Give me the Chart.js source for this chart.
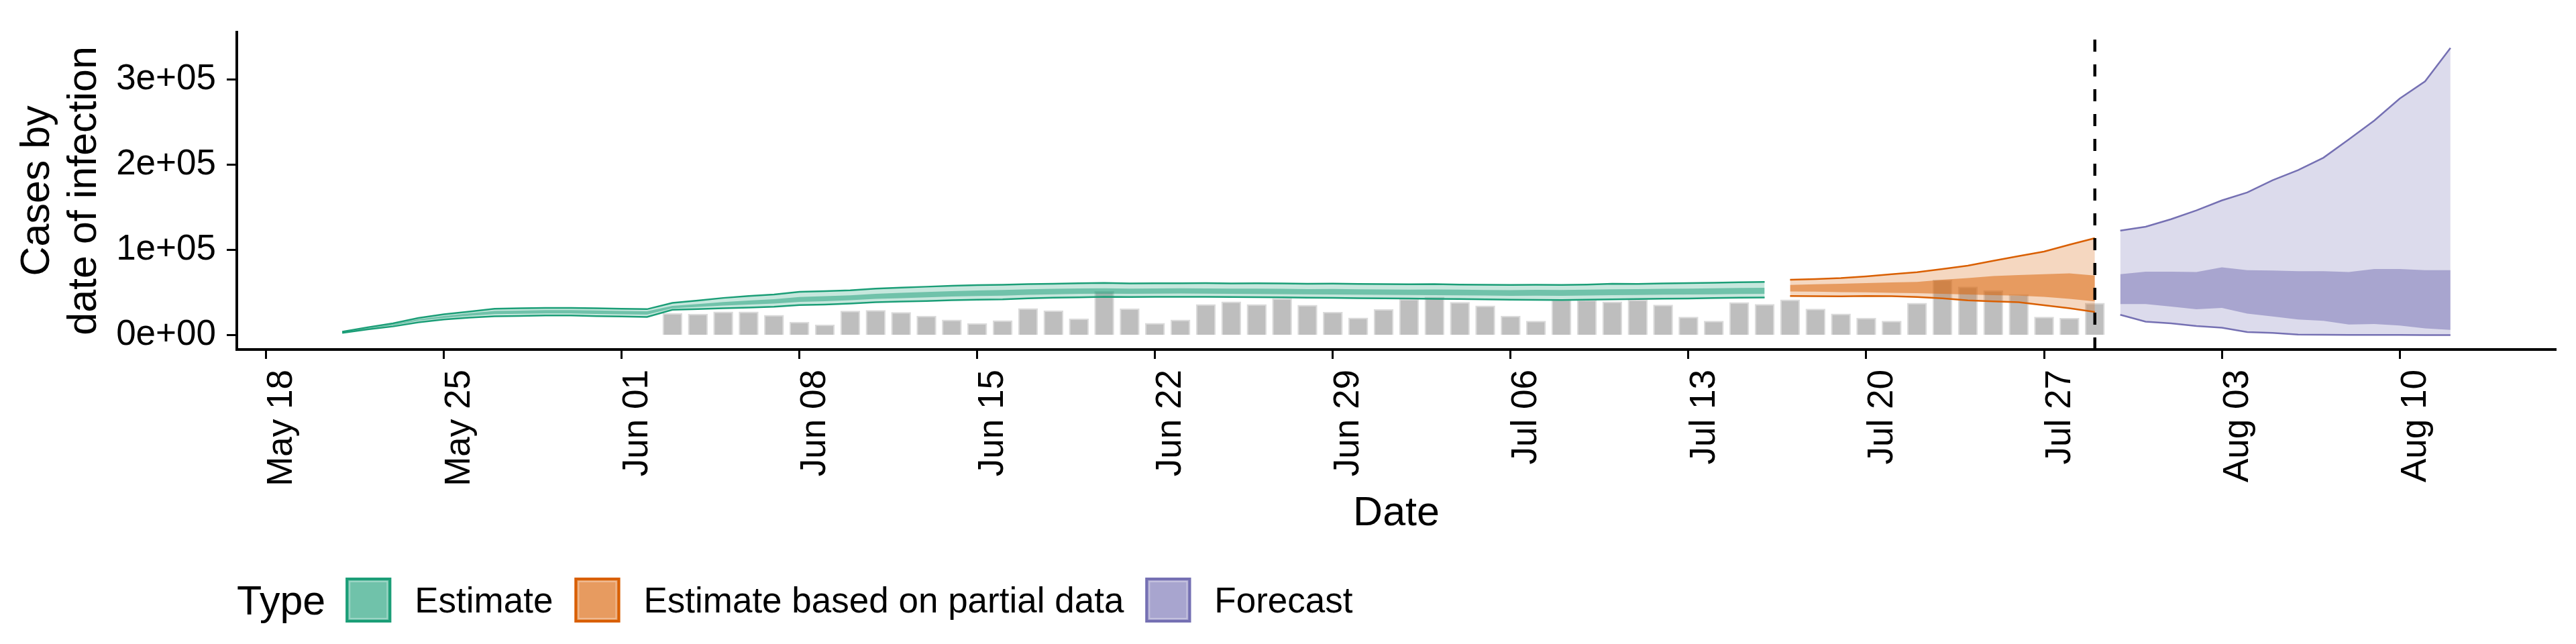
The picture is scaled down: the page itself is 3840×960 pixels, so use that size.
<!DOCTYPE html>
<html>
<head>
<meta charset="utf-8">
<title>Cases by date of infection</title>
<script src="https://cdn.jsdelivr.net/npm/chart.js@4.4.1/dist/chart.umd.min.js"></script>
<style>
  html, body { margin: 0; padding: 0; background: #fff; }
  #wrap { width: 3840px; height: 960px; }
</style>
</head>
<body>
<div id="wrap"><canvas id="myChart" width="3840" height="960"></canvas></div>
<script>
// every day that has a modelled value, May 21 .. Aug 12
const dates = [
  '2020-05-21', '2020-05-22', '2020-05-23', '2020-05-24', '2020-05-25', '2020-05-26', '2020-05-27',
  '2020-05-28', '2020-05-29', '2020-05-30', '2020-05-31', '2020-06-01', '2020-06-02', '2020-06-03',
  '2020-06-04', '2020-06-05', '2020-06-06', '2020-06-07', '2020-06-08', '2020-06-09', '2020-06-10',
  '2020-06-11', '2020-06-12', '2020-06-13', '2020-06-14', '2020-06-15', '2020-06-16', '2020-06-17',
  '2020-06-18', '2020-06-19', '2020-06-20', '2020-06-21', '2020-06-22', '2020-06-23', '2020-06-24',
  '2020-06-25', '2020-06-26', '2020-06-27', '2020-06-28', '2020-06-29', '2020-06-30', '2020-07-01',
  '2020-07-02', '2020-07-03', '2020-07-04', '2020-07-05', '2020-07-06', '2020-07-07', '2020-07-08',
  '2020-07-09', '2020-07-10', '2020-07-11', '2020-07-12', '2020-07-13', '2020-07-14', '2020-07-15',
  '2020-07-16', '2020-07-17', '2020-07-18', '2020-07-19', '2020-07-20', '2020-07-21', '2020-07-22',
  '2020-07-23', '2020-07-24', '2020-07-25', '2020-07-26', '2020-07-27', '2020-07-28', '2020-07-29',
  '2020-07-30', '2020-07-31', '2020-08-01', '2020-08-02', '2020-08-03', '2020-08-04', '2020-08-05',
  '2020-08-06', '2020-08-07', '2020-08-08', '2020-08-09', '2020-08-10', '2020-08-11', '2020-08-12'
];

const estimateDates = dates.slice(0, 57);   // May 21 - Jul 16
const partialDates = dates.slice(57, 70);   // Jul 17 - Jul 29
const forecastDates = dates.slice(70);      // Jul 30 - Aug 12
const reportDates = dates.slice(13, 70);    // Jun 03 - Jul 29

// Estimate
const estimateUpper90 = [
  4000, 9100, 13700, 20000, 24300, 27600, 30900, 31400, 31900, 31900, 31400, 30900, 30400,
  37800, 40600, 43600, 45900, 47700, 50700, 51500, 52500, 54500, 55800, 56800, 57800, 58600, 59100, 59800, 60300, 60800, 61300,
  60600, 60900, 60800, 61000, 60700, 60800, 60600, 60300, 60400, 60000, 59800, 59600, 59800, 59300, 59100, 58800, 59000, 58800,
  59300, 60300, 60000, 60600, 61000, 61500, 62000, 62400
];
const estimateLower90 = [
  2500, 6600, 10100, 15000, 18300, 20500, 22000, 22500, 23000, 23000, 22300, 21800, 21300,
  29700, 30400, 31400, 32200, 33200, 35200, 35900, 37000, 38500, 39300, 40000, 41000, 41600, 42000, 43100, 43800, 44300, 44900,
  44600, 44800, 44900, 44800, 44600, 44500, 44300, 43800, 43600, 43300, 43100, 42900, 42600, 42300, 42000, 41600, 41400, 41200,
  41500, 42000, 42300, 42700, 43000, 43400, 43800, 44100
];
const estimateUpper50 = [
  3500, 8200, 12600, 18500, 22500, 25500, 28300, 28800, 29300, 29400, 28900, 28400, 27900,
  34200, 36500, 38800, 40600, 42100, 44700, 45600, 46700, 48500, 49600, 50600, 51600, 52400, 53000, 53800, 54300, 54700, 54900,
  54600, 54800, 55000, 54800, 54500, 54600, 54400, 54000, 54200, 53800, 53600, 53400, 53600, 53300, 53000, 52800, 53100, 53000,
  53400, 53800, 53900, 54300, 54600, 54900, 55300, 55600
];
const estimateLower50 = [
  2900, 7500, 11300, 16800, 20000, 22600, 24600, 25000, 25400, 25400, 24800, 24400, 23900,
  31400, 33000, 34600, 35800, 37000, 38900, 39800, 40900, 42500, 43300, 44200, 45200, 45900, 46300, 47300, 47900, 48400, 48700,
  48500, 48700, 48800, 48600, 48400, 48300, 48100, 47800, 47600, 47400, 47200, 47000, 46800, 46600, 46400, 46000, 46200, 46100,
  46400, 46800, 47000, 47400, 47600, 47900, 48200, 48500
];

// Estimate based on partial data
const partialUpper90 = [64900, 65700, 66900, 69000, 71500, 73800, 77600, 81600, 87200, 92800, 98100, 106200, 113800];
const partialLower90 = [45900, 45600, 45400, 45900, 45600, 44600, 43100, 40800, 39500, 38500, 35000, 31400, 27100];
const partialUpper50 = [58800, 59600, 60300, 61100, 61800, 62400, 64900, 66900, 69400, 70500, 71500, 72500, 70000];
const partialLower50 = [51200, 50900, 50400, 50200, 49700, 49200, 48400, 47700, 46900, 46200, 44900, 42600, 39500];

// Forecast
const forecastUpper90 = [122700, 127300, 136100, 146500, 158200, 167500, 182000, 193700, 208400, 229900, 252000, 277800, 298100, 337400];
const forecastLower90 = [23800, 15700, 13700, 10600, 8600, 3500, 2500, 500, 300, 200, 100, 100, 0, 0];
const forecastUpper50 = [71500, 74500, 74500, 74000, 79600, 76300, 75800, 75000, 75000, 74000, 77600, 77600, 76300, 76300];
const forecastLower50 = [36500, 36500, 33500, 30200, 31900, 25100, 21800, 18300, 16700, 12400, 12900, 11200, 7800, 6100];

// reported cases (grey bars)
const reportedCases = [
  25600, 25000, 27600, 27600, 23600, 15500, 12200, 28600, 29400, 26900, 22600, 18000, 13700, 17200, 31400, 28900, 19500, 51700,
  31200, 14200, 18000, 36300, 39300, 36300, 43000, 35500, 27100, 20500, 30400, 42600, 44900, 38800, 34700, 22600, 16700, 42000,
  41300, 39300, 41800, 35700, 21500, 16700, 38600, 36500, 41800, 30900, 25100, 20300, 16700, 37800, 64900, 56800, 52500, 47900,
  21500, 20000, 37800
];

const forecastCutDate = '2020-07-29';

const xTickDates = ['2020-05-18', '2020-05-25', '2020-06-01', '2020-06-08', '2020-06-15', '2020-06-22', '2020-06-29',
  '2020-07-06', '2020-07-13', '2020-07-20', '2020-07-27', '2020-08-03', '2020-08-10'];
const xTickLabels = ['May 18', 'May 25', 'Jun 01', 'Jun 08', 'Jun 15', 'Jun 22', 'Jun 29',
  'Jul 06', 'Jul 13', 'Jul 20', 'Jul 27', 'Aug 03', 'Aug 10'];
const yTickValues = [0, 100000, 200000, 300000];
const yTickLabels = ['0e+00', '1e+05', '2e+05', '3e+05'];

const typeLabels = ['Estimate', 'Estimate based on partial data', 'Forecast'];
const typeColors = ['#1b9e77', '#d95f02', '#7570b3'];

const FONT = "'Liberation Sans', Arial, Helvetica, sans-serif";
const yMin = -17000;
const yMax = 356000;

function dayNum(s) {
  return Date.parse(s) / 864e5;
}

function pts(ds, vals) {
  return ds.map((d, i) => ({ x: dayNum(d), y: vals[i] }));
}

function rgba(hex, a) {
  const n = parseInt(hex.slice(1), 16);
  return `rgba(${n >> 16}, ${(n >> 8) & 255}, ${n & 255}, ${a})`;
}

// two line datasets, the second one filled down to the first
function ribbon(ds, lower, upper, color, alpha, outline, order) {
  const line = outline ? color : 'rgba(0,0,0,0)';
  const width = outline ? 2.5 : 0;
  return [
    { type: 'line', data: pts(ds, lower), borderColor: line, borderWidth: width, fill: false, order: order },
    { type: 'line', data: pts(ds, upper), borderColor: line, borderWidth: width, fill: '-1',
      backgroundColor: rgba(color, alpha), order: order }
  ];
}

const firstDay = dayNum('2020-05-21');
const lastDay = dayNum('2020-08-12');
const pad = (lastDay - firstDay) * 0.05;

const typeLegend = {
  id: 'typeLegend',
  afterDraw(chart) {
    const ctx = chart.ctx;
    ctx.save();
    ctx.textBaseline = 'alphabetic';
    ctx.fillStyle = '#000';
    ctx.font = '61px ' + FONT;
    let x = chart.chartArea.left;
    ctx.fillText('Type', x, 916);
    x += ctx.measureText('Type').width + 30;
    ctx.font = '53px ' + FONT;
    typeLabels.forEach((label, i) => {
      ctx.fillStyle = rgba(typeColors[i], 0.25);
      ctx.fillRect(x, 861, 68, 67);
      ctx.fillStyle = rgba(typeColors[i], 0.5);
      ctx.fillRect(x, 861, 68, 67);
      ctx.strokeStyle = 'rgba(255,255,255,0.3)';
      ctx.lineWidth = 2;
      ctx.strokeRect(x + 6, 867, 56, 55);
      ctx.strokeStyle = typeColors[i];
      ctx.lineWidth = 4;
      ctx.strokeRect(x + 2, 863, 64, 63);
      x += 68 + 35;
      ctx.fillStyle = '#000';
      ctx.fillText(label, x, 913);
      x += ctx.measureText(label).width + 32;
    });
    ctx.restore();
  }
};

Chart.defaults.font.family = FONT;
Chart.defaults.color = '#000';

const ctx = document.getElementById('myChart');

const datasets = [
  { type: 'line', data: [{ x: dayNum(forecastCutDate), y: yMin }, { x: dayNum(forecastCutDate), y: yMax }],
    borderColor: '#000', borderWidth: 4.5, borderDash: [18, 19], fill: false, order: 0 },
  ...ribbon(estimateDates, estimateLower90, estimateUpper90, typeColors[0], 0.25, true, 3),
  ...ribbon(estimateDates, estimateLower50, estimateUpper50, typeColors[0], 0.5, false, 2),
  ...ribbon(partialDates, partialLower90, partialUpper90, typeColors[1], 0.25, true, 3),
  ...ribbon(partialDates, partialLower50, partialUpper50, typeColors[1], 0.5, false, 2),
  ...ribbon(forecastDates, forecastLower90, forecastUpper90, typeColors[2], 0.25, true, 3),
  ...ribbon(forecastDates, forecastLower50, forecastUpper50, typeColors[2], 0.5, false, 2),
  { type: 'bar', data: pts(reportDates, reportedCases), backgroundColor: '#bebebe',
    borderColor: '#dadada', borderWidth: 2, barPercentage: 0.78, categoryPercentage: 1, order: 10 }
];

var myChart = new Chart(ctx, {
  type: 'line',
  data: { datasets: datasets },
  plugins: [typeLegend],
  options: {
    responsive: false,
    animation: false,
    devicePixelRatio: 1,
    layout: { padding: { left: 0, right: 30, top: 29, bottom: 157 } },
    elements: {
      line: { tension: 0 },
      point: { radius: 0, hoverRadius: 0 }
    },
    plugins: {
      legend: { display: false },
      tooltip: { enabled: false }
    },
    scales: {
      x: {
        type: 'linear',
        min: firstDay - pad,
        max: lastDay + pad,
        offset: false,
        afterBuildTicks: (scale) => {
          scale.ticks = xTickDates.map(d => ({ value: dayNum(d) }));
        },
        afterFit: (scale) => { scale.height = 282; },
        grid: { offset: false, drawOnChartArea: false, drawTicks: true, tickLength: 14, tickWidth: 3, tickColor: '#000' },
        border: { display: true, color: '#000', width: 4 },
        ticks: {
          autoSkip: false,
          minRotation: 90,
          maxRotation: 90,
          padding: 16,
          labelOffset: 24,
          color: '#000',
          font: { size: 53 },
          callback: (value, index) => xTickLabels[index]
        },
        title: { display: true, text: 'Date', color: '#000', font: { size: 61, lineHeight: 1.2 }, padding: { top: 0, bottom: 0 } }
      },
      y: {
        type: 'linear',
        min: yMin,
        max: yMax,
        afterBuildTicks: (scale) => {
          scale.ticks = yTickValues.map(v => ({ value: v }));
        },
        afterFit: (scale) => { scale.width = 353; },
        grid: { offset: false, drawOnChartArea: false, drawTicks: true, tickLength: 15, tickWidth: 3, tickColor: '#000' },
        border: { display: true, color: '#000', width: 4 },
        ticks: {
          padding: 16,
          color: '#000',
          font: { size: 53 },
          callback: (value, index) => yTickLabels[index]
        },
        title: {
          display: true,
          text: ['Cases by', 'date of infection'],
          color: '#000',
          font: { size: 61, lineHeight: 1.15 },
          padding: { top: 21, bottom: 0 }
        }
      }
    }
  }
});
</script>
</body>
</html>
